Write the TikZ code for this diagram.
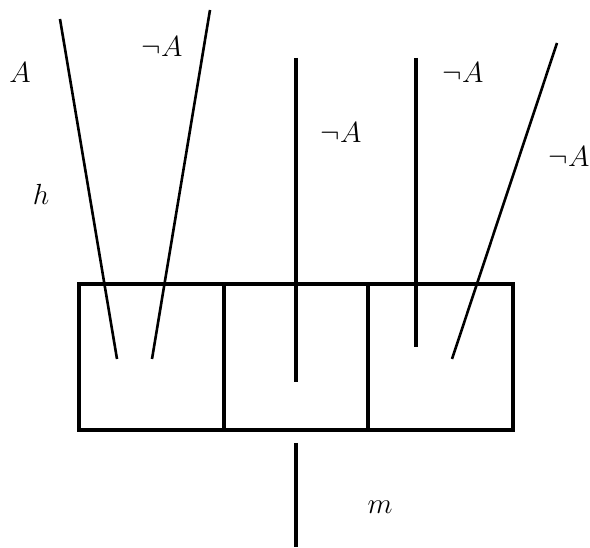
\documentclass[tikz,border=0pt]{standalone}
\begin{document}
\begin{tikzpicture}[x=1pt,y=-1pt,
  boxline/.style={line width=3.2pt},
  strand/.style={line width=3.2pt},
  slant/.style={line width=2.6pt},
  lbl/.style={font=\Huge, scale=1.17, inner sep=0pt}]
\useasboundingbox (0,0) rectangle (590,548);
% box
\draw[boxline] (79,284) rectangle (513,430);
\draw[boxline] (224,284) -- (224,430);
\draw[boxline] (368,284) -- (368,430);
% coordinates
\coordinate (a1) at (60,19);   \coordinate (a2) at (117,359);
\coordinate (b1) at (210,10);  \coordinate (b2) at (152,359);
\coordinate (c1) at (296,58);  \coordinate (c2) at (296,382);
\coordinate (d1) at (416,58);  \coordinate (d2) at (416,347);
\coordinate (e1) at (557,43);  \coordinate (e2) at (452,359);
\coordinate (f1) at (296,443); \coordinate (f2) at (296,547);
% strands
\draw[slant] (a1) -- (a2);
\draw[slant] (b1) -- (b2);
\draw[strand] (c1) -- (c2);
\draw[strand] (d1) -- (d2);
\draw[slant] (e1) -- (e2);
\draw[strand] (f1) -- (f2);
% labels
\node[lbl] (lA) at (20,73) {$A$};
\node[lbl] (lnA1) at (162,47) {$\neg A$};
\node[lbl] (lh) at (41,194) {$h$};
\node[lbl] (lnA2) at (341,133) {$\neg A$};
\node[lbl] (lnA3) at (463,73) {$\neg A$};
\node[lbl] (lnA4) at (569,157) {$\neg A$};
\node[lbl] (lm) at (380,507) {$m$};
\end{tikzpicture}
\end{document}
